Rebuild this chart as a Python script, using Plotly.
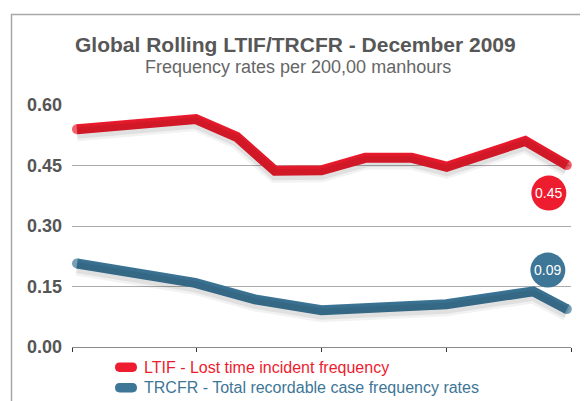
import plotly.graph_objects as go

# ---------------- data ----------------
ltif_month = [0.12, 2.98, 3.96, 4.88, 6.0, 7.05, 8.17, 9.01, 10.9, 11.9]
ltif_value = [0.540, 0.565, 0.521, 0.437, 0.438, 0.469, 0.469, 0.447, 0.511, 0.451]

trcfr_month = [0.12, 2.96, 4.4, 6.0, 9.0, 11.09, 11.9]
trcfr_value = [0.207, 0.159, 0.118, 0.091, 0.106, 0.138, 0.094]

y_ticks = [0.0, 0.15, 0.30, 0.45, 0.60]
x_ticks = [0, 3, 6, 9, 12]

title_text = "Global Rolling LTIF/TRCFR - December 2009"
subtitle_text = "Frequency rates per 200,00 manhours"
ltif_name = "LTIF - Lost time incident frequency"
trcfr_name = "TRCFR - Total recordable case frequency rates"

# ---------------- style ----------------
RED = "#ED1C2E"
BLUE = "#3D7697"
OFF = 8                      # page body margin
W, H = 588 - OFF, 401 - OFF
ML, MR, MT, MB = 72 - OFF, 17, 105 - OFF, 54
PW, PH = W - ML - MR, H - MT - MB
FONT = "Liberation Sans, Arial, sans-serif"


def px(xp):
    """window pixel x -> paper fraction"""
    return (xp - OFF - ML) / PW


def py(yp):
    """window pixel y -> paper fraction"""
    return (H - MB - (yp - OFF)) / PH


Y_RANGE = [0, 0.6]
shadow_off = 4 * (Y_RANGE[1] - Y_RANGE[0]) / PH

fig = go.Figure()

# shadows
for xs, ys in [(ltif_month, ltif_value), (trcfr_month, trcfr_value)]:
    fig.add_trace(go.Scatter(x=xs, y=ys, yaxis="y2", mode="lines",
                             line=dict(color="rgba(0,0,0,0.05)", width=16),
                             hoverinfo="skip", showlegend=False))
    fig.add_trace(go.Scatter(x=xs, y=ys, yaxis="y2", mode="lines",
                             line=dict(color="rgba(0,0,0,0.07)", width=11),
                             hoverinfo="skip", showlegend=False))

# main lines
for xs, ys, col in [(ltif_month, ltif_value, RED), (trcfr_month, trcfr_value, BLUE)]:
    sizes = [10 if i in (0, len(xs) - 1) else 0 for i in range(len(xs))]
    fig.add_trace(go.Scatter(x=xs, y=ys, mode="lines+markers",
                             line=dict(color=col, width=10),
                             marker=dict(color=col, size=sizes, line=dict(width=0)),
                             cliponaxis=False, showlegend=False))

shapes = []
annotations = []

# badges
for xs, ys, col, dx, dy in [(ltif_month, ltif_value, RED, -18, -28),
                            (trcfr_month, trcfr_value, BLUE, -19, 39)]:
    r = 17.5
    shapes.append(dict(type="circle", xref="x", yref="y",
                       xsizemode="pixel", ysizemode="pixel",
                       xanchor=xs[-1], yanchor=ys[-1],
                       x0=dx - r, x1=dx + r, y0=dy - r, y1=dy + r,
                       fillcolor=col, line=dict(width=0), layer="above"))
    annotations.append(dict(x=xs[-1], y=ys[-1], xref="x", yref="y",
                            xshift=dx, yshift=dy, text=f"{ys[-1]:.2f}",
                            showarrow=False, font=dict(family=FONT, size=14, color="white")))

# frame
shapes.append(dict(type="rect", xref="paper", yref="paper",
                   x0=px(11.5), x1=px(586), y0=py(430), y1=py(14.5),
                   line=dict(color="#A8A8A8", width=1.5), fillcolor="rgba(0,0,0,0)",
                   layer="below"))

# title / subtitle
annotations.append(dict(x=px(295), y=py(44), xref="paper", yref="paper",
                        text=f"<b>{title_text}</b>", showarrow=False,
                        xanchor="center", yanchor="middle",
                        font=dict(family=FONT, size=21, color="#575757")))
annotations.append(dict(x=px(298), y=py(67), xref="paper", yref="paper",
                        text=subtitle_text, showarrow=False,
                        xanchor="center", yanchor="middle",
                        font=dict(family=FONT, size=18, color="#666666")))

# legend (manual)
for name, col, yc in [(ltif_name, RED, 367.3), (trcfr_name, BLUE, 387.7)]:
    shapes.append(dict(type="path", xref="paper", yref="paper",
                       xsizemode="pixel", ysizemode="pixel",
                       xanchor=px(126), yanchor=py(yc),
                       path="M-6.5,-4.7 L6.5,-4.7 C9.3,-4.7 11,-2.8 11,0 C11,2.8 9.3,4.7 6.5,4.7 "
                            "L-6.5,4.7 C-9.3,4.7 -11,2.8 -11,0 C-11,-2.8 -9.3,-4.7 -6.5,-4.7 Z",
                       fillcolor=col, line=dict(width=0)))
    annotations.append(dict(x=px(141.5), y=py(yc), xref="paper", yref="paper",
                            text=name, showarrow=False, xanchor="left", yanchor="middle",
                            font=dict(family=FONT, size=16, color=col)))

fig.update_layout(
    width=W, height=H,
    margin=dict(l=ML, r=MR, t=MT, b=MB, pad=0),
    paper_bgcolor="white", plot_bgcolor="white",
    showlegend=False,
    xaxis=dict(range=[0, 12], tickvals=x_ticks, showticklabels=False,
               ticks="outside", ticklen=4, tickcolor="#333", tickwidth=1.2,
               showgrid=False, zeroline=False, showline=True,
               linecolor="#8A8A8A", linewidth=1.2, fixedrange=True),
    yaxis=dict(range=Y_RANGE, tickvals=y_ticks, tickformat=".2f",
               showgrid=True, gridcolor="#ABABAB", gridwidth=1,
               zeroline=False, showline=False, ticks="",
               ticklabelstandoff=9,
               tickfont=dict(family=FONT, size=18, color="#555555", weight="bold"),
               fixedrange=True),
    yaxis2=dict(range=[Y_RANGE[0] + shadow_off, Y_RANGE[1] + shadow_off],
                overlaying="y", visible=False, fixedrange=True),
    shapes=shapes,
    annotations=annotations,
)

fig.write_html("out.html")
